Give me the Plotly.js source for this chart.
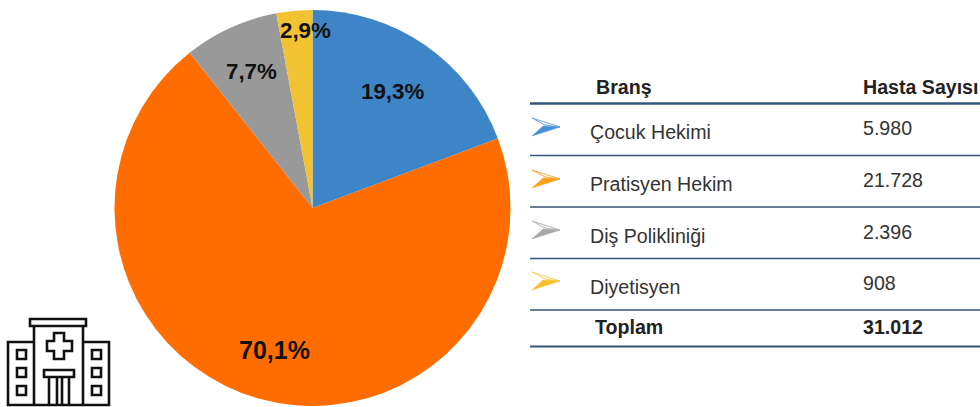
<!DOCTYPE html>
<html><head><meta charset="utf-8">
<script src="https://cdn.plot.ly/plotly-3.0.1.min.js"></script>
<style>html,body{margin:0;padding:0;background:#fff;overflow:hidden;width:980px;height:407px}</style>
</head><body><div id="chart" style="width:980px;height:420px"></div>
<script>
const categories = ["Çocuk Hekimi", "Pratisyen Hekim", "Diş Polikliniği", "Diyetisyen"];
const patients = [5980, 21728, 2396, 908];
const patientLabels = ["5.980", "21.728", "2.396", "908"];
const totalLabel = "Toplam";
const totalValue = "31.012";
const headers = ["Branş", "Hasta Sayısı"];
const sliceColors = ["#3d85c6", "#ff6d01", "#999999", "#f1c232"];
const arrowDark = ["#4a90d9", "#ff9f1c", "#a8a8a8", "#f6c02c"];
const arrowLight = ["#6fa8dc", "#ffab40", "#b7b7b7", "#f6d365"];

const W = 980, H = 420;
const px = x => x / W, py = y => 1 - y / H;
const total = patients.reduce((a, b) => a + b, 0);
const pctText = patients.map(v => (v / total * 100).toFixed(1).replace(".", ",") + "%");

const cx = 312.5, cy = 208, R = 198;
const trace = {
  type: "pie", labels: categories, values: patients, sort: false, direction: "clockwise", rotation: 0,
  marker: {colors: sliceColors, line: {color: "#ffffff", width: 0}},
  textinfo: "none", showlegend: false, hoverinfo: "label+percent",
  domain: {x: [px(cx - R), px(cx + R)], y: [py(cy + R), py(cy - R)]}
};

const labelPos = [[392, 91, 22.3], [274, 350, 25], [252, 71, 22.3], [305.5, 31, 22.3]];
const ann = [];
const txt = (x, y, text, size, bold, anchor, color) => ann.push({
  xref: "paper", yref: "paper", x: px(x), y: py(y), text: bold ? "<b>" + text + "</b>" : text,
  showarrow: false, xanchor: anchor || "left", yanchor: "middle", borderpad: 0,
  font: {family: "Liberation Sans, Arial, sans-serif", size: size, color: color || "#222222"}
});
pctText.forEach((t, i) => txt(labelPos[i][0], labelPos[i][1], t, labelPos[i][2], true, "center", "#111111"));

txt(594.5, 87, headers[0], 19.6, true);
txt(861.5, 87, headers[1], 19.6, true);
const labelY = [132, 184, 236, 287], valueY = [128, 180, 232, 283];
categories.forEach((c, i) => {
  txt(588.5, labelY[i], c, 19.6, false, "left", "#333333");
  txt(861.5, valueY[i], patientLabels[i], 19.6, false, "left", "#333333");
});
txt(593.5, 327, totalLabel, 19.6, true);
txt(861.5, 327, totalValue, 19.6, true);

const shapes = [];
const pathOf = pts => pts.map((p, i) => (i ? "L" : "M") + px(p[0]) + "," + py(p[1])).join(" ");
const poly = (pts, close) => pathOf(pts) + (close ? " Z" : "");
const add = (path, o) => shapes.push(Object.assign({type: "path", xref: "paper", yref: "paper", path: path, layer: "above"}, o));
const rule = "#34567a";
[[103.5, 2.4], [155.5, 1.4], [207, 1.4], [258.5, 1.4], [310, 1.4], [346.5, 1.8]].forEach(r =>
  add(poly([[530, r[0]], [980, r[0]]]), {line: {color: rule, width: r[1]}}));

[118, 170, 221, 272].forEach((y0, i) => {
  add(poly([[532, y0], [560, y0 + 9], [545, y0 + 7]], true), {fillcolor: "#ffffff", line: {color: arrowLight[i], width: 1}});
  add(poly([[532, y0 + 18], [560, y0 + 9], [543, y0 + 8]], true), {fillcolor: arrowDark[i], line: {color: arrowDark[i], width: 0.5}});
});

const ic = {line: {color: "#111111", width: 2.6}, fillcolor: "rgba(0,0,0,0)"};
const rect = (x0, y0, x1, y1) => add(poly([[x0, y0], [x1, y0], [x1, y1], [x0, y1]], true), ic);
rect(30, 319, 86, 326);
add(poly([[34, 326], [34, 405]]), ic); add(poly([[83, 326], [83, 405]]), ic);
add(poly([[34, 342], [8, 342], [8, 405], [109, 405], [109, 342], [83, 342]]), ic);
[350, 368, 386].forEach(y => { rect(17, y, 26, y + 9); rect(92, y, 101, y + 9); });
add(poly([[54, 333], [64, 333], [64, 341], [72, 341], [72, 351], [64, 351], [64, 359], [54, 359], [54, 351], [47, 351], [47, 341], [54, 341]], true), ic);
rect(44, 370, 74, 377);
[49, 57, 62, 69].forEach(x => add(poly([[x, 377], [x, 405]]), ic));

Plotly.newPlot("chart", [trace], {
  width: W, height: H, margin: {l: 0, r: 0, t: 0, b: 0}, paper_bgcolor: "#ffffff",
  showlegend: false, annotations: ann, shapes: shapes
}, {displayModeBar: false, staticPlot: true});
</script></body></html>
